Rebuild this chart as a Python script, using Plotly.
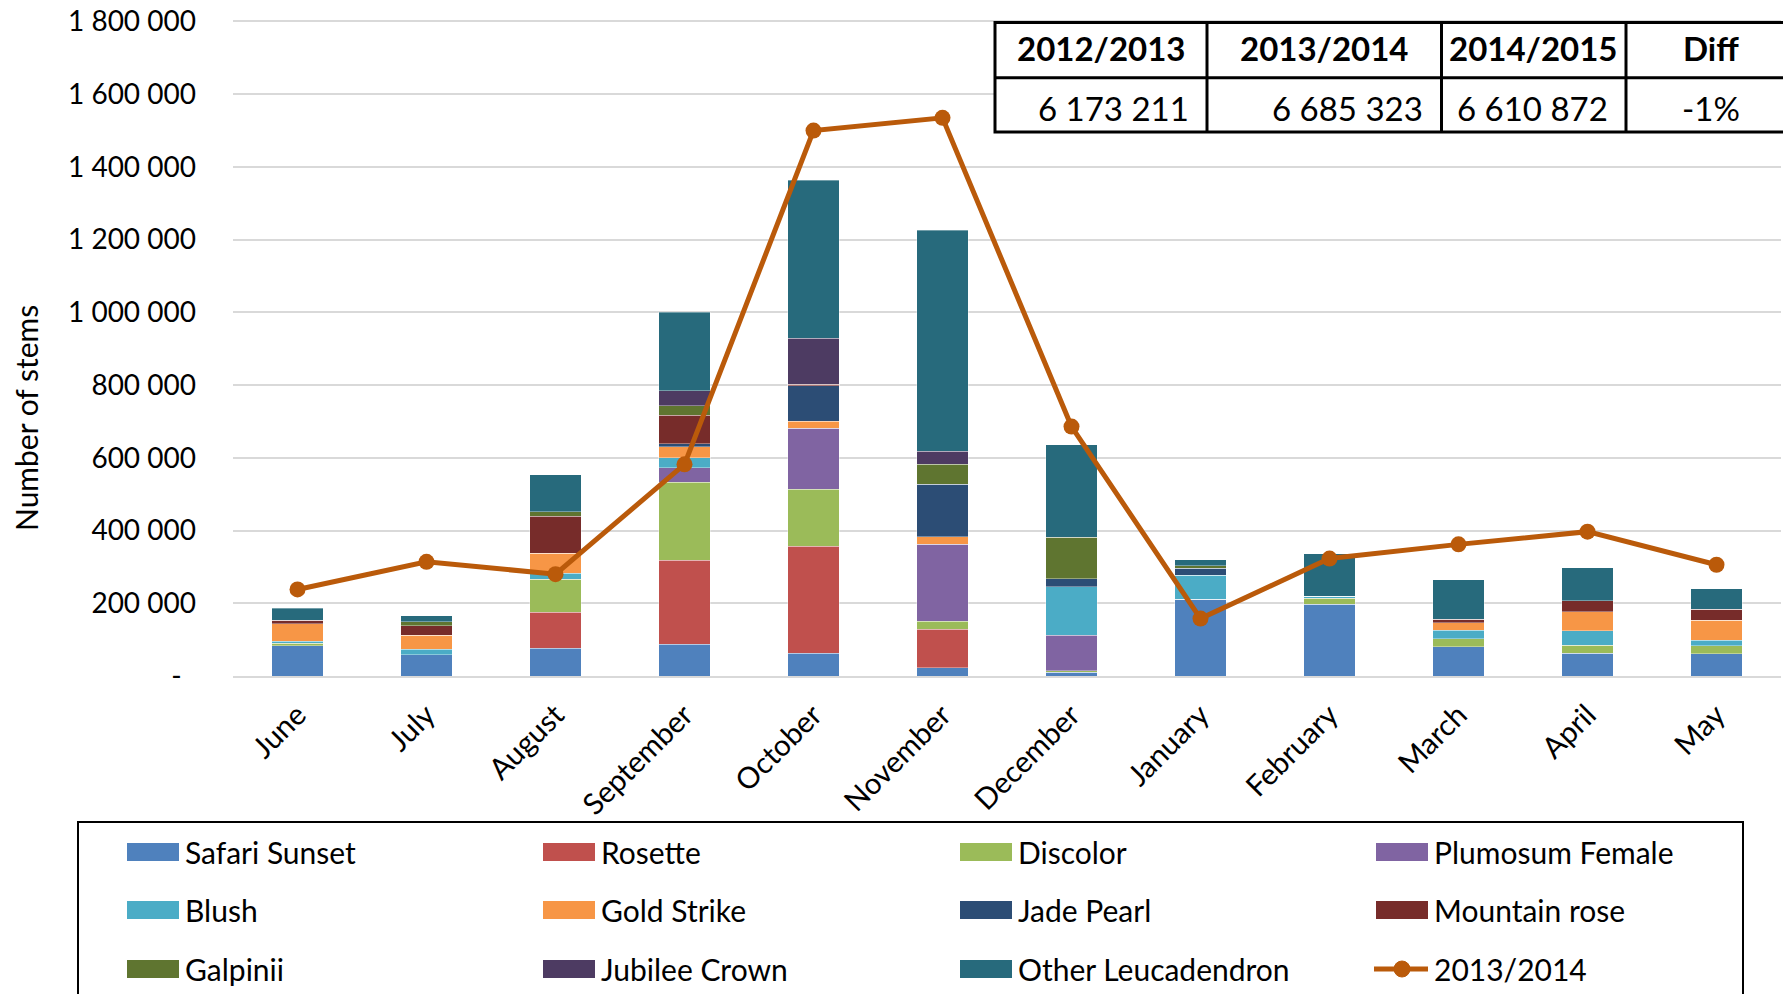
import plotly.graph_objects as go

months = ["June", "July", "August", "September", "October", "November",
          "December", "January", "February", "March", "April", "May"]

safari_sunset = [83000, 59000, 77000, 87000, 63000, 23000, 10000, 211000, 198000, 81000, 63000, 61000]
rosette = [0, 0, 98000, 232000, 294000, 106000, 0, 0, 0, 0, 0, 0]
discolor = [7000, 0, 91000, 214000, 157000, 21000, 5000, 0, 16000, 21000, 21000, 22000]
plumosum_female = [0, 0, 0, 40000, 167000, 212000, 97000, 0, 0, 0, 0, 0]
blush = [6000, 15000, 16000, 27000, 0, 0, 133000, 66000, 6000, 24000, 40000, 16000]
gold_strike = [48000, 38000, 55000, 30000, 19000, 21000, 0, 0, 0, 20000, 53000, 55000]
jade_pearl = [0, 0, 0, 9000, 98000, 145000, 22000, 20000, 0, 0, 0, 0]
mountain_rose = [10000, 26000, 102000, 78000, 5000, 0, 0, 0, 0, 10000, 30000, 30000]
galpinii = [0, 11000, 13000, 26000, 0, 54000, 114000, 6000, 0, 0, 0, 0]
jubilee_crown = [0, 0, 0, 41000, 126000, 36000, 0, 0, 0, 0, 0, 0]
other_leucadendron = [33000, 17000, 102000, 216000, 435000, 608000, 255000, 17000, 116000, 109000, 91000, 56000]

line_2013_2014 = [238000, 314000, 280000, 582000, 1500000, 1535000, 686000, 158000, 323000, 362000, 397000, 306000]

series_names = ["Safari Sunset", "Rosette", "Discolor", "Plumosum Female", "Blush", "Gold Strike",
                "Jade Pearl", "Mountain rose", "Galpinii", "Jubilee Crown", "Other Leucadendron"]
series_values = [safari_sunset, rosette, discolor, plumosum_female, blush, gold_strike,
                 jade_pearl, mountain_rose, galpinii, jubilee_crown, other_leucadendron]
series_colors = ["#4F81BD", "#C0504D", "#9BBB59", "#8064A2", "#4BACC6", "#F79646",
                 "#2C4D75", "#772C2A", "#5F7530", "#4D3B62", "#276A7C"]
line_name = "2013/2014"
line_color = "#BA5A0A"

y_tickvals = [0, 200000, 400000, 600000, 800000, 1000000, 1200000, 1400000, 1600000, 1800000]
y_ticktext = ["-\u00a0\u00a0", "200 000", "400 000", "600 000", "800 000", "1 000 000",
              "1 200 000", "1 400 000", "1 600 000", "1 800 000"]
y_max = 1804000

table_headers = ["2012/2013", "2013/2014", "2014/2015", "Diff"]
table_values = ["6 173 211", "6 685 323", "6 610 872", "-1%"]

# ---- layout geometry (page pixels; page body has an 8px margin) ----
W, H = 1791, 994
OFF = 8
ML, MR, MT, MB = 225, 18, 12, 326
PW = W - ML - MR
PH = H - MT - MB


def px_x(px):
    return (px - OFF - ML) / PW


def px_y(py):
    return (H - MB - (py - OFF)) / PH


FONT = "Lato"

fig = go.Figure()
for name, vals, col in zip(series_names, series_values, series_colors):
    fig.add_trace(go.Bar(
        x=months, y=vals, name=name, showlegend=False,
        marker=dict(color=col, line=dict(color="rgba(255,255,255,0.35)", width=1)),
    ))

fig.add_trace(go.Scatter(
    x=months, y=line_2013_2014, name=line_name, showlegend=False,
    mode="lines+markers",
    line=dict(color=line_color, width=5),
    marker=dict(color=line_color, size=16),
))

shapes = []
annotations = []

# ---- table (shapes + text) ----
col_edges = [995, 1207, 1441.5, 1626, 1800]
t_top, t_mid, t_bot = 22.5, 77.7, 132
shapes.append(dict(type="rect", xref="paper", yref="paper",
                   x0=px_x(col_edges[0]), x1=px_x(col_edges[-1]), y0=px_y(t_bot), y1=px_y(t_top),
                   fillcolor="white", line=dict(color="black", width=3), layer="above"))
shapes.append(dict(type="line", xref="paper", yref="paper",
                   x0=px_x(col_edges[0]), x1=px_x(col_edges[-1]), y0=px_y(t_mid), y1=px_y(t_mid),
                   line=dict(color="black", width=3), layer="above"))
for xe in col_edges[1:-1]:
    shapes.append(dict(type="line", xref="paper", yref="paper",
                       x0=px_x(xe), x1=px_x(xe), y0=px_y(t_bot), y1=px_y(t_top),
                       line=dict(color="black", width=3), layer="above"))

centers = [(col_edges[i] + col_edges[i + 1]) / 2 for i in range(3)] + [1711]
for i, h in enumerate(table_headers):
    annotations.append(dict(text=f"<b>{h}</b>", xref="paper", yref="paper",
                            x=px_x(centers[i]), y=px_y(48), xanchor="center", yanchor="middle",
                            showarrow=False, font=dict(family=FONT, size=33, color="black")))
right_pos = [1191, 1425, 1610]
for i, v in enumerate(table_values):
    if i < 3:
        annotations.append(dict(text=v, xref="paper", yref="paper",
                                x=px_x(right_pos[i]), y=px_y(108), xanchor="right", yanchor="middle",
                                showarrow=False, font=dict(family=FONT, size=33, color="black")))
    else:
        annotations.append(dict(text=v, xref="paper", yref="paper",
                                x=px_x(centers[i]), y=px_y(108), xanchor="center", yanchor="middle",
                                showarrow=False, font=dict(family=FONT, size=33, color="black")))

# ---- legend (drawn as a boxed grid of swatches + labels) ----
shapes.append(dict(type="rect", xref="paper", yref="paper",
                   x0=px_x(78), x1=px_x(1743), y0=px_y(1010), y1=px_y(822),
                   fillcolor="white", line=dict(color="black", width=2), layer="above"))
leg_cols = [127, 543, 960, 1376]
leg_rows = [852, 910, 969]
leg_names = series_names + [line_name]
leg_colors = series_colors + [line_color]
for k, (nm, cl) in enumerate(zip(leg_names, leg_colors)):
    cx = leg_cols[k % 4]
    cy = leg_rows[k // 4]
    if nm == line_name:
        shapes.append(dict(type="line", xref="paper", yref="paper",
                           x0=px_x(cx - 2), x1=px_x(cx + 52), y0=px_y(cy), y1=px_y(cy),
                           line=dict(color=cl, width=5), layer="above"))
        shapes.append(dict(type="circle", xref="paper", yref="paper",
                           x0=px_x(cx + 18), x1=px_x(cx + 34), y0=px_y(cy + 8), y1=px_y(cy - 8),
                           fillcolor=cl, line=dict(color=cl, width=1), layer="above"))
    else:
        shapes.append(dict(type="rect", xref="paper", yref="paper",
                           x0=px_x(cx), x1=px_x(cx + 52), y0=px_y(cy + 9), y1=px_y(cy - 9),
                           fillcolor=cl, line=dict(width=0), layer="above"))
    annotations.append(dict(text=nm, xref="paper", yref="paper",
                            x=px_x(cx + 56), y=px_y(cy), xanchor="left", yanchor="middle",
                            showarrow=False, font=dict(family=FONT, size=30, color="black")))

# y-axis title
annotations.append(dict(text="Number of stems", xref="paper", yref="paper",
                        x=px_x(26), y=px_y(418), xanchor="center", yanchor="middle",
                        textangle=-90, showarrow=False,
                        font=dict(family=FONT, size=30, color="black")))

fig.update_layout(
    width=W, height=H,
    margin=dict(l=ML, r=MR, t=MT, b=MB, autoexpand=False),
    paper_bgcolor="white", plot_bgcolor="white",
    barmode="stack", bargap=0.6,
    font=dict(family=FONT, color="black"),
    shapes=shapes, annotations=annotations,
    showlegend=False,
    xaxis=dict(
        type="category", range=[-0.5, 11.5], tickangle=-45,
        tickfont=dict(family=FONT, size=29.5, color="black"),
        showgrid=False, showline=True, linecolor="#D9D9D9", linewidth=2,
        ticks="", ticklabelstandoff=8,
    ),
    yaxis=dict(
        range=[0, y_max], tickvals=y_tickvals, ticktext=y_ticktext,
        tickfont=dict(family=FONT, size=28, color="black"),
        showgrid=True, gridcolor="#D9D9D9", gridwidth=2,
        zeroline=False, showline=False, ticks="", ticklabelstandoff=36,
        ticklabeloverflow="allow",
    ),
)

fig.write_html("out.html")
